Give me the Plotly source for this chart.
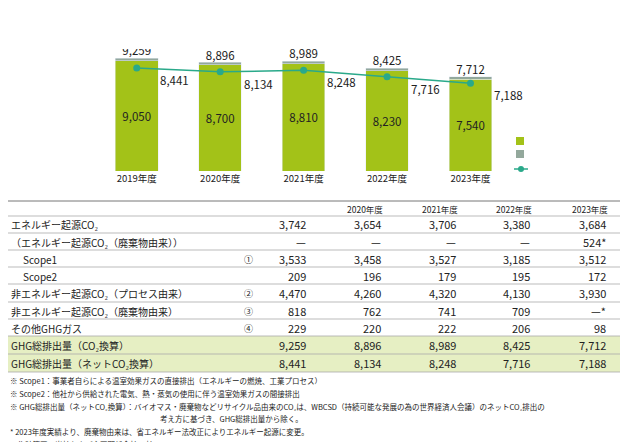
import plotly.graph_objects as go

years = ["2019年度", "2020年度", "2021年度", "2022年度", "2023年度"]
scope1 = [9050, 8700, 8810, 8230, 7540]
total = [9259, 8896, 8989, 8425, 7712]
scope2 = [t - s for t, s in zip(total, scope1)]
net = [8441, 8134, 8248, 7716, 7188]

row_labels = ["エネルギー起源CO₂", "（エネルギー起源CO₂（廃棄物由来））", "Scope1", "Scope2",
              "非エネルギー起源CO₂（プロセス由来）", "非エネルギー起源CO₂（廃棄物由来）",
              "その他GHGガス", "GHG総排出量（CO₂換算）", "GHG総排出量（ネットCO₂換算）"]
row_marks = ["", "", "①", "", "②", "③", "④", "", ""]
row_values = [
    ["3,742", "3,654", "3,706", "3,380", "3,684"],
    ["—", "—", "—", "—", "524*"],
    ["3,533", "3,458", "3,527", "3,185", "3,512"],
    ["209", "196", "179", "195", "172"],
    ["4,470", "4,260", "4,320", "4,130", "3,930"],
    ["818", "762", "741", "709", "—*"],
    ["229", "220", "222", "206", "98"],
    ["9,259", "8,896", "8,989", "8,425", "7,712"],
    ["8,441", "8,134", "8,248", "7,716", "7,188"],
]
notes = [
    "※ Scope1：事業者自らによる温室効果ガスの直接排出（エネルギーの燃焼、工業プロセス）",
    "※ Scope2：他社から供給された電気、熱・蒸気の使用に伴う温室効果ガスの間接排出",
    "※ GHG総排出量（ネットCO₂換算）：バイオマス・廃棄物などリサイクル品由来のCO₂は、WBCSD（持続可能な発展の為の世界経済人会議）のネットCO₂排出の",
    "考え方に基づき、GHG総排出量から除く。",
    "* 2023年度実績より、廃棄物由来は、省エネルギー法改正によりエネルギー起源に変更。",
    "＜集計範囲＞当社および主要関係会社48社",
]
legend_names = ["Scope1（①+②+③+④）", "Scope2", "GHG総排出量<br>（ネットCO₂換算）"]

W, H = 630, 442
FONT = "Noto Sans CJK JP"
G1, G2, LC = "#a3c218", "#93a89c", "#2aa98a"

def py(p):
    return 1 - p / H

def px(p):
    return p / W

fig = go.Figure()
fig.add_bar(x=years, y=scope1, name=legend_names[0], marker_color=G1,
            text=[f"{v:,}" for v in scope1], textposition="inside", insidetextanchor="middle",
            textfont=dict(size=11.5, color="#222"), width=0.51)
fig.add_bar(x=years, y=scope2, name=legend_names[1], marker_color=G2, width=0.51)
fig.add_scatter(x=years, y=net, name=legend_names[2], mode="lines+markers",
                line=dict(color=LC, width=1.5), marker=dict(size=7, color=LC))
fig.add_scatter(x=years, y=total, mode="text", text=[f"{v:,}" for v in total],
                textposition="top center", textfont=dict(size=11.5, color="#222"),
                hoverinfo="skip")
for i, v in enumerate(net):
    fig.add_annotation(x=i, y=v, xref="x", yref="y", text=f"{v:,}", showarrow=False,
                       xshift=38, yshift=-12, font=dict(size=11.5, color="#222"))

ann = []
shapes = []
ann.append(dict(x=0, y=py(9), xref="paper", yref="paper", text="（千t-CO₂eq）", showarrow=False,
                xanchor="left", yanchor="middle", font=dict(size=8.5)))

# manual legend
lx = 508
shapes.append(dict(type="rect", xref="paper", yref="paper", x0=px(lx), x1=px(lx + 8),
                   y0=py(137), y1=py(129), fillcolor=G1, line_width=0))
shapes.append(dict(type="rect", xref="paper", yref="paper", x0=px(lx), x1=px(lx + 8),
                   y0=py(150), y1=py(142), fillcolor=G2, line_width=0))
shapes.append(dict(type="line", xref="paper", yref="paper", x0=px(lx - 2), x1=px(lx + 12),
                   y0=py(161), y1=py(161), line=dict(color=LC, width=1.5)))
shapes.append(dict(type="circle", xref="paper", yref="paper", x0=px(lx + 2), x1=px(lx + 8),
                   y0=py(164), y1=py(158), fillcolor=LC, line_width=0))
for txt, yv in zip(legend_names, [133, 146, 168]):
    ann.append(dict(x=px(lx + 14), y=py(yv), xref="paper", yref="paper", text=txt, showarrow=False,
                    xanchor="left", yanchor="middle", align="left", font=dict(size=9)))

cols_right = [300, 375, 450, 524, 600]
header_y = 201
row_y = [216, 234, 251, 268, 285, 303, 320, 337, 355]
for y0, y1 in [(328, 346), (346, 364)]:
    shapes.append(dict(type="rect", xref="paper", yref="paper", x0=0, x1=px(612),
                       y0=py(y1), y1=py(y0), fillcolor="#e6efc3", line_width=0, layer="below"))
shapes.append(dict(type="line", xref="paper", yref="paper", x0=0, x1=px(612), y0=py(193), y1=py(193),
                   line=dict(color="#777", width=1)))
for yl in [208, 225, 242, 259, 276, 294, 311, 328, 346, 364]:
    shapes.append(dict(type="line", xref="paper", yref="paper", x0=0, x1=px(612), y0=py(yl), y1=py(yl),
                       line=dict(color="#aaa", width=0.8)))
for j, yr in enumerate(years):
    ann.append(dict(x=px(cols_right[j] - 18), y=py(header_y), xref="paper", yref="paper", text=yr,
                    showarrow=False, xanchor="center", yanchor="middle", font=dict(size=8.5)))
for i, lab in enumerate(row_labels):
    xl = 13 if lab in ("Scope1", "Scope2") else 1
    ann.append(dict(x=px(xl), y=py(row_y[i]), xref="paper", yref="paper", text=lab, showarrow=False,
                    xanchor="left", yanchor="middle", font=dict(size=10)))
    if row_marks[i]:
        ann.append(dict(x=px(240), y=py(row_y[i]), xref="paper", yref="paper", text=row_marks[i],
                        showarrow=False, xanchor="center", yanchor="middle", font=dict(size=9)))
    for j, v in enumerate(row_values[i]):
        ann.append(dict(x=px(cols_right[j]), y=py(row_y[i]), xref="paper", yref="paper", text=v,
                        showarrow=False, xanchor="right", yanchor="middle", font=dict(size=11)))
note_y = [372, 385, 398, 410, 423, 436]
for k, (t, yv) in enumerate(zip(notes, note_y)):
    ann.append(dict(x=px(150) if k == 3 else 0, y=py(yv), xref="paper", yref="paper", text=t,
                    showarrow=False, xanchor="left", yanchor="middle", font=dict(size=7.5)))

fig.update_layout(
    width=W, height=H, margin=dict(l=0, r=0, t=0, b=0, autoexpand=False), barmode="stack",
    plot_bgcolor="white", paper_bgcolor="white",
    font=dict(family=FONT, color="#222"),
    xaxis=dict(domain=[px(87), px(517)], showline=False, ticks="", tickfont=dict(size=9.5)),
    yaxis=dict(domain=[py(163), py(41)], range=[0, 10000], visible=False),
    annotations=ann, shapes=shapes, showlegend=False,
)
fig.write_html("out.html")
